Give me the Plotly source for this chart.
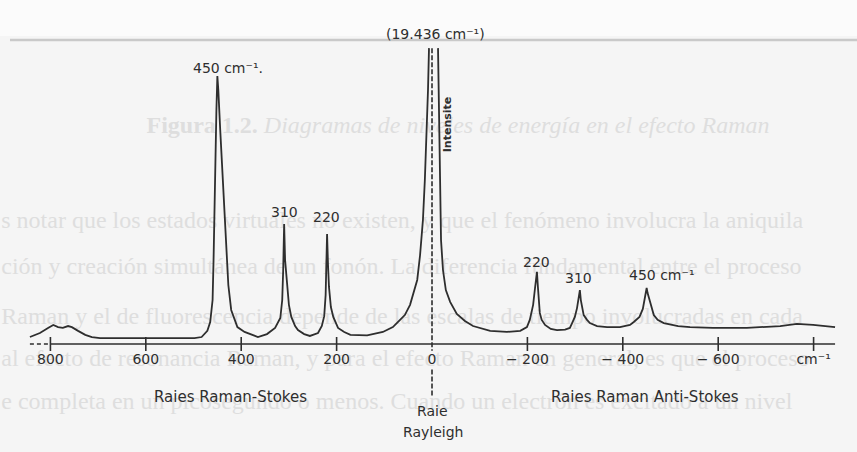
import plotly.graph_objects as go

# Raman spectrum (wavenumber shift in cm-1, relative intensity); None breaks the off-scale Rayleigh line
wavenumber = [
    843, 822, 805, 794, 784, 774, 763, 755, 742, 727, 713, 696, 633, 570, 498, 483,
    471, 465, 460, 458, 456, 454, 452, 450, 448, 444, 440, 435, 431, 427, 421, 408,
    393, 379, 365, 346, 329, 318, 314, 312, 310, 308, 304, 300, 295, 287, 281, 268,
    256, 239, 231, 226, 223, 221, 220, 218, 216, 212, 207, 197, 184, 171, 136, 103,
    82, 67, 57, 46, 38, 31, 25, 19, 15, 10.5, 8.4, 6.3, None,
    -12.6, -14.7, -16.8, -18.9, -23, -29, -38, -52, -69, -86, -122, -157, -185, -199,
    -205, -212, -216, -218, -220, -222, -224, -226, -230, -237, -249, -262, -279, -289,
    -293, -299.5, -304, -307, -310, -312, -315, -318, -325, -331, -346, -367, -394, -415,
    -423, -435, -442, -446, -448, -450, -452, -456, -460.5, -465, -473, -486, -516, -541,
    -589, -660, -730, -765, -799, -845,
]
intensity = [
    2.6, 4.1, 6.0, 7.1, 6.3, 6.0, 6.7, 6.3, 4.9, 3.4, 2.6, 2.2, 2.2, 2.2, 2.2, 2.6,
    4.9, 8.2, 16.4, 31.3, 53.7, 72.4, 87.3, 100, 94.8, 79.9, 64.9, 50.0, 35.1, 22.0, 12.7, 6.3,
    4.5, 3.4, 2.6, 3.7, 6.0, 9.7, 16.4, 27.6, 44.8, 31.3, 21.3, 14.6, 10.1, 6.7, 5.2, 3.7,
    3.0, 4.1, 6.7, 10.4, 18.3, 29.5, 41.0, 29.5, 21.3, 13.8, 10.1, 6.0, 4.5, 3.4, 3.2, 4.5,
    6.3, 9.0, 10.8, 14.6, 19.4, 23.9, 33.2, 46.3, 61.2, 79.9, 94.8, 110.4, None,
    110.4, 83.6, 53.7, 38.8, 27.6, 20.1, 15.7, 11.2, 8.6, 6.7, 4.9, 4.5, 4.9, 6.3,
    9.0, 14.6, 20.9, 24.6, 26.9, 21.3, 16.4, 11.6, 9.0, 7.1, 5.6, 5.2, 5.4, 6.0,
    7.5, 10.1, 13.4, 17.2, 20.1, 16.4, 13.1, 10.8, 9.0, 7.8, 6.7, 6.3, 6.3, 7.1,
    8.2, 10.1, 13.1, 16.4, 19.0, 20.9, 19.0, 16.4, 13.1, 10.8, 9.0, 7.8, 6.7, 6.3,
    6.0, 6.0, 6.7, 7.5, 7.1, 6.3,
]

# Labelled Raman lines (Stokes positive, anti-Stokes negative)
peak_positions = [450, 310, 220, -220, -310, -450]
peak_heights = [100, 44.8, 41.0, 26.9, 20.1, 20.9]
peak_labels = ["450 cm⁻¹.", "310", "220", "220", "310", "450 cm⁻¹"]
peak_label_dx = [11, 0, -1, 0, -1, 15]
peak_label_dy = [8, 12, 17, 10, 12, 13]

# Axis ticks
tick_values = [800, 600, 400, 200, 0, -200, -400, -600, -800]
tick_labels = ["800", "600", "400", "200", "0", "− 200", "− 400", "− 600", "cm⁻¹"]

rayleigh_label = "(19.436 cm⁻¹)"

# Page text showing through from the reverse side of the sheet
page_caption = "<b>Figura 1.2.</b> <i>Diagramas de niveles de energía en el efecto Raman</i>"
page_lines = [
    "s notar que los estados virtuales no existen, y que el fenómeno involucra la aniquila",
    "ción y creación simultánea de un fonón. La diferencia fundamental entre el proceso",
    "Raman y el de fluorescencia depende de las escalas de tiempo involucradas en cada",
    "al efecto de resonancia Raman, y para el efecto Raman en general, es que el proceso",
    "e completa en un picosegundo o menos. Cuando un electrón es excitado a un nivel",
]
page_line_levels = [45.5, 28.4, 9.7, -6.0, -22.0]

INK = "#2e2e2e"
PAPER = "#f5f5f5"
GHOST = "#dedede"
CHART_FONT = "DejaVu Sans"

fig = go.Figure()

# faint reverse-side text, kept beneath the drawing
fig.add_trace(go.Scatter(
    x=[-54.5], y=[81.0], mode="text", text=[page_caption], textposition="middle center",
    textfont=dict(family="Liberation Serif", size=24, color=GHOST),
    hoverinfo="skip", showlegend=False,
))
fig.add_trace(go.Scatter(
    x=[903] * len(page_lines), y=page_line_levels, mode="text", text=page_lines,
    textposition="middle right",
    textfont=dict(family="Liberation Serif", size=24, color=GHOST),
    hoverinfo="skip", showlegend=False,
))

# baseline axis (dashed stub at the far left, solid afterwards)
fig.add_trace(go.Scatter(
    x=[843, 800], y=[0, 0], mode="lines",
    line=dict(color=INK, width=1.5, dash="4px,3px"), hoverinfo="skip", showlegend=False,
))
fig.add_trace(go.Scatter(
    x=[800, -845], y=[0, 0], mode="lines",
    line=dict(color=INK, width=1.6), hoverinfo="skip", showlegend=False,
))

# tick marks crossing the axis
tick_marks = [v for v in tick_values if v != 0]
fig.add_trace(go.Scatter(
    x=tick_marks, y=[0] * len(tick_marks), mode="markers",
    marker=dict(symbol="line-ns", size=10, line=dict(color=INK, width=1.6)),
    hoverinfo="skip", showlegend=False,
))

# tick labels
fig.add_trace(go.Scatter(
    x=tick_values, y=[-6.0] * len(tick_values), mode="text", text=tick_labels,
    textposition="middle center",
    textfont=dict(family=CHART_FONT, size=14, color=INK),
    hoverinfo="skip", showlegend=False,
))

# Rayleigh line marker (dashed, interrupted at the "0" label)
fig.add_trace(go.Scatter(
    x=[0, 0, None, 0, 0], y=[110.4, -2.5, None, -9.5, -19.8], mode="lines",
    line=dict(color=INK, width=1.6, dash="5px,2px"), hoverinfo="skip", showlegend=False,
))

# the spectrum
fig.add_trace(go.Scatter(
    x=wavenumber, y=intensity, mode="lines", connectgaps=False,
    line=dict(color=INK, width=1.8), hoverinfo="skip", showlegend=False,
))

annotations = []
for pos, h, lab, dx, dy in zip(peak_positions, peak_heights, peak_labels, peak_label_dx, peak_label_dy):
    annotations.append(dict(
        x=pos, y=h, xref="x", yref="y", text=lab, showarrow=False,
        xanchor="center", yanchor="middle", xshift=dx, yshift=dy,
        font=dict(family=CHART_FONT, size=14, color=INK),
    ))

chart_texts = [
    (423.5, -19.8, "Raies Raman-Stokes", 15),
    (-446.5, -19.8, "Raies Raman Anti-Stokes", 15),
    (-2, -25.0, "Raie", 14),
    (-2, -32.8, "Rayleigh", 14),
    (-6.3, 115.7, rayleigh_label, 14),
]
for x, y, t, size in chart_texts:
    annotations.append(dict(
        x=x, y=y, xref="x", yref="y", text=t, showarrow=False,
        xanchor="center", yanchor="middle",
        font=dict(family=CHART_FONT, size=size, color=INK),
    ))
annotations.append(dict(
    x=-31.4, y=82.0, xref="x", yref="y", text="<b>Intensite</b>", showarrow=False,
    xanchor="center", yanchor="middle", textangle=-90,
    font=dict(family=CHART_FONT, size=11, color=INK),
))

fig.update_layout(
    width=857, height=452,
    margin=dict(l=0, r=0, t=0, b=0),
    paper_bgcolor=PAPER, plot_bgcolor=PAPER,
    showlegend=False,
    annotations=annotations,
    shapes=[
        # whiter strip at the very top of the sheet
        dict(type="rect", xref="paper", yref="paper", x0=0, x1=1,
             y0=1 - 36 / 452, y1=1, fillcolor="#fbfbfb", line=dict(width=0), layer="below"),
        # printed header rule of the page
        dict(type="line", xref="paper", yref="paper", x0=10 / 857, x1=1,
             y0=1 - 40 / 452, y1=1 - 40 / 452, line=dict(color="#c9c9c9", width=2.5),
             layer="below"),
    ],
    xaxis=dict(range=[905.7, -891.0], visible=False, showgrid=False, zeroline=False),
    yaxis=dict(range=[-40.30, 128.36], visible=False, showgrid=False, zeroline=False),
)

fig.write_html("out.html")
